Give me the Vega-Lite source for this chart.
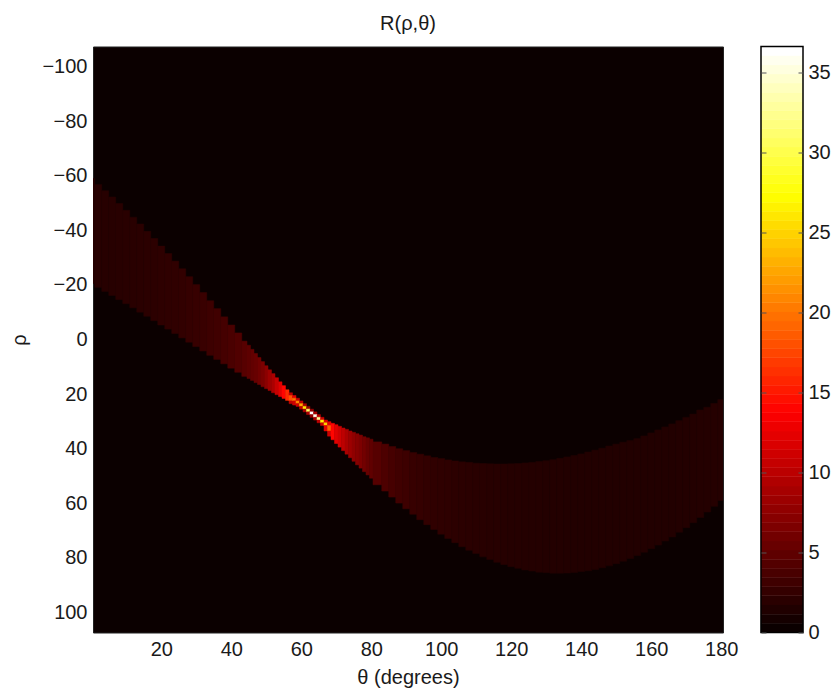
{"$schema":"https://vega.github.io/schema/vega-lite/v6.json","background":"white","padding":{"left":9,"top":12.5,"right":0,"bottom":0},"spacing":21,"config":{"font":"Liberation Sans","view":{"stroke":null},"axis":{"labelFont":"Liberation Sans","titleFont":"Liberation Sans","labelFontSize":20,"titleFontSize":20,"titleFontWeight":"normal","labelColor":"#1a1a1a","titleColor":"#1a1a1a","grid":false,"domain":false}},"hconcat":[{"width":630,"height":586,"title":{"text":"R(ρ,θ)","fontSize":20,"fontWeight":"normal","font":"Liberation Sans","color":"#1a1a1a","offset":13,"anchor":"middle"},"view":{"fill":"#0b0000","stroke":"#222222"},"data":{"values":[
{"t0":0.5,"t1":1,"r0":-59,"r1":-20.5,"v":1.6},{"t0":1,"t1":3,"r0":-56.8,"r1":-19.1,"v":1.6},{"t0":3,"t1":5,"r0":-54.5,"r1":-17.6,"v":1.6},{"t0":5,"t1":7,"r0":-52.2,"r1":-16.1,"v":1.6},{"t0":7,"t1":9,"r0":-49.8,"r1":-14.6,"v":1.65},{"t0":9,"t1":11,"r0":-47.3,"r1":-13.1,"v":1.7},{"t0":11,"t1":13,"r0":-44.8,"r1":-11.6,"v":1.7},{"t0":13,"t1":15,"r0":-42.3,"r1":-10,"v":1.75},{"t0":15,"t1":17,"r0":-39.6,"r1":-8.5,"v":1.8},{"t0":17,"t1":19,"r0":-37,"r1":-6.9,"v":1.85},{"t0":19,"t1":21,"r0":-34.2,"r1":-5.3,"v":1.95},{"t0":21,"t1":23,"r0":-31.5,"r1":-3.8,"v":2},{"t0":23,"t1":25,"r0":-28.7,"r1":-2.2,"v":2.1},{"t0":25,"t1":27,"r0":-25.9,"r1":-0.6,"v":2.2},{"t0":27,"t1":29,"r0":-23,"r1":1,"v":2.35},{"t0":29,"t1":31,"r0":-20.1,"r1":2.6,"v":2.45},{"t0":31,"t1":33,"r0":-17.2,"r1":4.2,"v":2.6},{"t0":33,"t1":35,"r0":-14.2,"r1":5.8,"v":2.8},{"t0":35,"t1":37,"r0":-11.3,"r1":7.3,"v":3},{"t0":37,"t1":39,"r0":-8.3,"r1":8.9,"v":3.25},{"t0":39,"t1":41,"r0":-5.3,"r1":10.5,"v":3.55},{"t0":41,"t1":43,"r0":-2.4,"r1":12,"v":3.9},{"t0":43,"t1":44.5,"r0":0.6,"r1":13.5,"v":4.3},
{"t0":44.5,"t1":45.5,"r0":2.1,"r1":14.3,"v":4.6},{"t0":45.5,"t1":46.5,"r0":3.6,"r1":15,"v":4.9},{"t0":46.5,"t1":47.5,"r0":5.1,"r1":15.8,"v":5.2},{"t0":47.5,"t1":48.5,"r0":6.6,"r1":16.5,"v":5.7},{"t0":48.5,"t1":49.5,"r0":8.1,"r1":17.3,"v":6.3},{"t0":49.5,"t1":50.5,"r0":9.6,"r1":18,"v":7.2},{"t0":50.5,"t1":51.5,"r0":11.1,"r1":18.7,"v":8.2},{"t0":51.5,"t1":52.5,"r0":12.5,"r1":19.5,"v":9},{"t0":52.5,"t1":53.5,"r0":14,"r1":20.2,"v":10.5},{"t0":53.5,"t1":54.5,"r0":15.5,"r1":20.9,"v":12},{"t0":54.5,"t1":55.5,"r0":16.9,"r1":21.6,"v":14},{"t0":55.5,"t1":56.5,"r0":18.4,"r1":22.3,"v":16},{"t0":56.5,"t1":57.5,"r0":19.5,"r1":20.5,"v":10},{"t0":56.5,"t1":57.5,"r0":20.5,"r1":22.5,"v":18},{"t0":56.5,"t1":57.5,"r0":22.5,"r1":23.5,"v":10},
{"t0":57.5,"t1":58.5,"r0":20.5,"r1":21.5,"v":12},{"t0":57.5,"t1":58.5,"r0":21.5,"r1":22.5,"v":20},{"t0":57.5,"t1":58.5,"r0":22.5,"r1":24,"v":11},{"t0":58.5,"t1":59.5,"r0":21.5,"r1":22.5,"v":11},{"t0":58.5,"t1":59.5,"r0":22.5,"r1":23.5,"v":21},{"t0":58.5,"t1":59.5,"r0":23.5,"r1":24.5,"v":11},{"t0":59.5,"t1":60.5,"r0":22.5,"r1":23.5,"v":10},{"t0":59.5,"t1":60.5,"r0":23.5,"r1":24.5,"v":23},{"t0":59.5,"t1":60.5,"r0":24.5,"r1":25.5,"v":10},{"t0":60.5,"t1":61.5,"r0":23.5,"r1":24.5,"v":9},{"t0":60.5,"t1":61.5,"r0":24.5,"r1":25.5,"v":26},{"t0":60.5,"t1":61.5,"r0":25.5,"r1":26.5,"v":9},{"t0":61.5,"t1":62.5,"r0":24.5,"r1":25.5,"v":8},{"t0":61.5,"t1":62.5,"r0":25.5,"r1":26.5,"v":31},{"t0":61.5,"t1":62.5,"r0":26.5,"r1":27.5,"v":9},{"t0":62.5,"t1":63.5,"r0":25.5,"r1":26.5,"v":8},{"t0":62.5,"t1":63.5,"r0":26.5,"r1":27.5,"v":36.6},{"t0":62.5,"t1":63.5,"r0":27.5,"r1":28.5,"v":8},{"t0":63.5,"t1":64.5,"r0":26.5,"r1":27.5,"v":9},{"t0":63.5,"t1":64.5,"r0":27.5,"r1":28.5,"v":36},{"t0":63.5,"t1":64.5,"r0":28.5,"r1":29.5,"v":9},{"t0":64.5,"t1":65.5,"r0":27.5,"r1":28.5,"v":10},{"t0":64.5,"t1":65.5,"r0":28.5,"r1":29.5,"v":33},{"t0":64.5,"t1":65.5,"r0":29.5,"r1":30.5,"v":10},{"t0":65.5,"t1":66.5,"r0":28.5,"r1":29.5,"v":11},{"t0":65.5,"t1":66.5,"r0":29.5,"r1":30.5,"v":27},{"t0":65.5,"t1":66.5,"r0":30.5,"r1":31.5,"v":11},{"t0":66.5,"t1":67.5,"r0":29.5,"r1":30.5,"v":12},{"t0":66.5,"t1":67.5,"r0":30.5,"r1":31.5,"v":25},{"t0":66.5,"t1":67.5,"r0":31.5,"r1":33.5,"v":12},{"t0":67.5,"t1":68.5,"r0":30.1,"r1":31.5,"v":12},{"t0":67.5,"t1":68.5,"r0":31.5,"r1":33.5,"v":19},{"t0":67.5,"t1":68.5,"r0":33.5,"r1":35.4,"v":11},{"t0":68.5,"t1":69.5,"r0":30.7,"r1":36.7,"v":14},
{"t0":69.5,"t1":70.5,"r0":31.2,"r1":38.1,"v":12},{"t0":70.5,"t1":71.5,"r0":31.8,"r1":39.4,"v":11},{"t0":71.5,"t1":72.5,"r0":32.4,"r1":40.7,"v":10},{"t0":72.5,"t1":73.5,"r0":32.9,"r1":42,"v":9},{"t0":73.5,"t1":74.5,"r0":33.5,"r1":43.3,"v":8.2},{"t0":74.5,"t1":75.5,"r0":34,"r1":44.6,"v":7.5},{"t0":75.5,"t1":76.5,"r0":34.5,"r1":45.9,"v":7},{"t0":76.5,"t1":77.5,"r0":35,"r1":47.1,"v":6.4},{"t0":77.5,"t1":78.5,"r0":35.6,"r1":48.4,"v":5.8},{"t0":78.5,"t1":79.5,"r0":36,"r1":49.6,"v":5.2},{"t0":79.5,"t1":80.5,"r0":36.5,"r1":50.8,"v":4.8},
{"t0":80.5,"t1":83,"r0":37.5,"r1":53.2,"v":4.2},{"t0":83,"t1":85,"r0":38.3,"r1":55.5,"v":3.7},{"t0":85,"t1":87,"r0":39.2,"r1":57.7,"v":3.3},{"t0":87,"t1":89,"r0":40,"r1":59.9,"v":3},{"t0":89,"t1":91,"r0":40.7,"r1":62,"v":2.8},{"t0":91,"t1":93,"r0":41.4,"r1":64,"v":2.5},{"t0":93,"t1":95,"r0":42,"r1":66,"v":2.35},{"t0":95,"t1":97,"r0":42.6,"r1":67.8,"v":2.2},{"t0":97,"t1":99,"r0":43.2,"r1":69.6,"v":2.1},{"t0":99,"t1":101,"r0":43.6,"r1":71.3,"v":2},{"t0":101,"t1":103,"r0":44.1,"r1":72.9,"v":1.95},{"t0":103,"t1":105,"r0":44.5,"r1":74.4,"v":1.85},{"t0":105,"t1":107,"r0":44.8,"r1":75.9,"v":1.8},{"t0":107,"t1":109,"r0":45,"r1":77.2,"v":1.75},{"t0":109,"t1":111,"r0":45.3,"r1":78.4,"v":1.7},{"t0":111,"t1":113,"r0":45.4,"r1":79.6,"v":1.65},{"t0":113,"t1":115,"r0":45.5,"r1":80.6,"v":1.6},{"t0":115,"t1":117,"r0":45.6,"r1":81.6,"v":1.55},{"t0":117,"t1":119,"r0":45.6,"r1":82.4,"v":1.5},{"t0":119,"t1":121,"r0":45.5,"r1":83.2,"v":1.45},{"t0":121,"t1":123,"r0":45.4,"r1":83.8,"v":1.45},{"t0":123,"t1":125,"r0":45.2,"r1":84.4,"v":1.4},{"t0":125,"t1":127,"r0":45,"r1":84.8,"v":1.4},{"t0":127,"t1":129,"r0":44.7,"r1":85.2,"v":1.4},{"t0":129,"t1":131,"r0":44.4,"r1":85.4,"v":1.35},{"t0":131,"t1":133,"r0":44,"r1":85.6,"v":1.35},{"t0":133,"t1":135,"r0":43.5,"r1":85.6,"v":1.35},{"t0":135,"t1":137,"r0":43,"r1":85.5,"v":1.3},{"t0":137,"t1":139,"r0":42.5,"r1":85.3,"v":1.3},{"t0":139,"t1":141,"r0":41.9,"r1":85,"v":1.3},{"t0":141,"t1":143,"r0":41.2,"r1":84.7,"v":1.3},{"t0":143,"t1":145,"r0":40.5,"r1":84.2,"v":1.3},{"t0":145,"t1":147,"r0":39.8,"r1":83.6,"v":1.3},{"t0":147,"t1":149,"r0":39,"r1":82.9,"v":1.3},{"t0":149,"t1":151,"r0":38.3,"r1":82.1,"v":1.3},{"t0":151,"t1":153,"r0":37.6,"r1":81.2,"v":1.3},{"t0":153,"t1":155,"r0":37,"r1":80.2,"v":1.3},{"t0":155,"t1":157,"r0":36.3,"r1":79.1,"v":1.3},{"t0":157,"t1":159,"r0":35.3,"r1":77.9,"v":1.3},{"t0":159,"t1":161,"r0":34.2,"r1":76.6,"v":1.3},{"t0":161,"t1":163,"r0":33.1,"r1":75.3,"v":1.3},{"t0":163,"t1":165,"r0":32,"r1":73.8,"v":1.3},{"t0":165,"t1":167,"r0":30.9,"r1":72.3,"v":1.3},{"t0":167,"t1":169,"r0":29.7,"r1":70.6,"v":1.35},{"t0":169,"t1":171,"r0":28.5,"r1":68.9,"v":1.35},{"t0":171,"t1":173,"r0":27.3,"r1":67.1,"v":1.35},{"t0":173,"t1":175,"r0":25.8,"r1":65.2,"v":1.4},{"t0":175,"t1":177,"r0":24.8,"r1":63.2,"v":1.4},{"t0":177,"t1":179,"r0":23.4,"r1":61.1,"v":1.45},{"t0":179,"t1":180.5,"r0":22,"r1":59,"v":1.45}
]},"mark":{"type":"rect","clip":true,"strokeWidth":0.5},"encoding":{"x":{"field":"t0","type":"quantitative","scale":{"domain":[0.5,180.5],"nice":false,"zero":false},"axis":{"title":"θ (degrees)","values":[20,40,60,80,100,120,140,160,180],"ticks":false,"labelPadding":7,"titlePadding":8,"labelFlush":false}},"x2":{"field":"t1"},"y":{"field":"r0","type":"quantitative","scale":{"domain":[-107.3,107.3],"nice":false,"zero":false,"reverse":true},"axis":{"title":"ρ","values":[-100,-80,-60,-40,-20,0,20,40,60,80,100],"ticks":false,"labelPadding":6,"titlePadding":12}},"y2":{"field":"r1"},"color":{"field":"v","type":"quantitative","legend":null,"scale":{"domain":[0,13.73,27.46,36.6],"range":["#0b0000","#ff0000","#ffff00","#ffffff"],"interpolate":"rgb"}},"stroke":{"field":"v","type":"quantitative","legend":null,"scale":{"domain":[0,13.73,27.46,36.6],"range":["#0b0000","#ff0000","#ffff00","#ffffff"],"interpolate":"rgb"}}}},
{"width":42,"height":586,"data":{"values":[{"lo":0,"hi":0.57},{"lo":0.57,"hi":1.14},{"lo":1.14,"hi":1.72},{"lo":1.72,"hi":2.29},{"lo":2.29,"hi":2.86},{"lo":2.86,"hi":3.43},{"lo":3.43,"hi":4},{"lo":4,"hi":4.58},{"lo":4.58,"hi":5.15},{"lo":5.15,"hi":5.72},{"lo":5.72,"hi":6.29},{"lo":6.29,"hi":6.86},{"lo":6.86,"hi":7.44},{"lo":7.44,"hi":8.01},{"lo":8.01,"hi":8.58},{"lo":8.58,"hi":9.15},{"lo":9.15,"hi":9.72},{"lo":9.72,"hi":10.3},{"lo":10.3,"hi":10.87},{"lo":10.87,"hi":11.44},{"lo":11.44,"hi":12.01},{"lo":12.01,"hi":12.58},{"lo":12.58,"hi":13.16},{"lo":13.16,"hi":13.73},{"lo":13.73,"hi":14.3},{"lo":14.3,"hi":14.87},{"lo":14.87,"hi":15.44},{"lo":15.44,"hi":16.02},{"lo":16.02,"hi":16.59},{"lo":16.59,"hi":17.16},{"lo":17.16,"hi":17.73},{"lo":17.73,"hi":18.3},{"lo":18.3,"hi":18.88},{"lo":18.88,"hi":19.45},{"lo":19.45,"hi":20.02},{"lo":20.02,"hi":20.59},{"lo":20.59,"hi":21.16},{"lo":21.16,"hi":21.74},{"lo":21.74,"hi":22.31},{"lo":22.31,"hi":22.88},{"lo":22.88,"hi":23.45},{"lo":23.45,"hi":24.02},{"lo":24.02,"hi":24.6},{"lo":24.6,"hi":25.17},{"lo":25.17,"hi":25.74},{"lo":25.74,"hi":26.31},{"lo":26.31,"hi":26.88},{"lo":26.88,"hi":27.46},{"lo":27.46,"hi":28.03},{"lo":28.03,"hi":28.6},{"lo":28.6,"hi":29.17},{"lo":29.17,"hi":29.74},{"lo":29.74,"hi":30.32},{"lo":30.32,"hi":30.89},{"lo":30.89,"hi":31.46},{"lo":31.46,"hi":32.03},{"lo":32.03,"hi":32.6},{"lo":32.6,"hi":33.18},{"lo":33.18,"hi":33.75},{"lo":33.75,"hi":34.32},{"lo":34.32,"hi":34.89},{"lo":34.89,"hi":35.46},{"lo":35.46,"hi":36.04},{"lo":36.04,"hi":36.6}]},"layer":[{"mark":{"type":"rect","strokeWidth":0.5},"encoding":{"x":{"datum":0,"type":"quantitative","scale":{"domain":[0,1],"nice":false,"zero":false},"axis":null},"x2":{"datum":1},"y":{"field":"lo","type":"quantitative","scale":{"domain":[0,36.6],"nice":false,"zero":false},"axis":{"orient":"right","title":null,"values":[0,5,10,15,20,25,30,35],"tickSize":-5,"tickColor":"#555555","tickWidth":1,"labelPadding":10,"ticks":true,"zindex":1}},"y2":{"field":"hi"},"color":{"field":"lo","type":"quantitative","legend":null,"scale":{"domain":[0,13.5,27,36.04],"range":["#0b0000","#ff0000","#ffff00","#ffffff"],"interpolate":"rgb"}},"stroke":{"field":"lo","type":"quantitative","legend":null,"scale":{"domain":[0,13.5,27,36.04],"range":["#0b0000","#ff0000","#ffff00","#ffffff"],"interpolate":"rgb"}}}},{"data":{"values":[{"lo":0,"hi":36.6}]},"mark":{"type":"rect","fillOpacity":0,"stroke":"#000000","strokeWidth":1.5},"encoding":{"x":{"datum":0,"type":"quantitative","scale":{"domain":[0,1],"nice":false,"zero":false},"axis":null},"x2":{"datum":1},"y":{"field":"lo","type":"quantitative","scale":{"domain":[0,36.6],"nice":false,"zero":false},"axis":{"orient":"left","title":null,"values":[0,5,10,15,20,25,30,35],"tickSize":-5,"tickColor":"#555555","tickWidth":1,"labels":false,"ticks":true,"zindex":1}},"y2":{"field":"hi"}}}],"resolve":{"axis":{"y":"independent"},"scale":{"color":"independent","stroke":"independent"}}}],"resolve":{"scale":{"color":"independent","stroke":"independent"}}}
